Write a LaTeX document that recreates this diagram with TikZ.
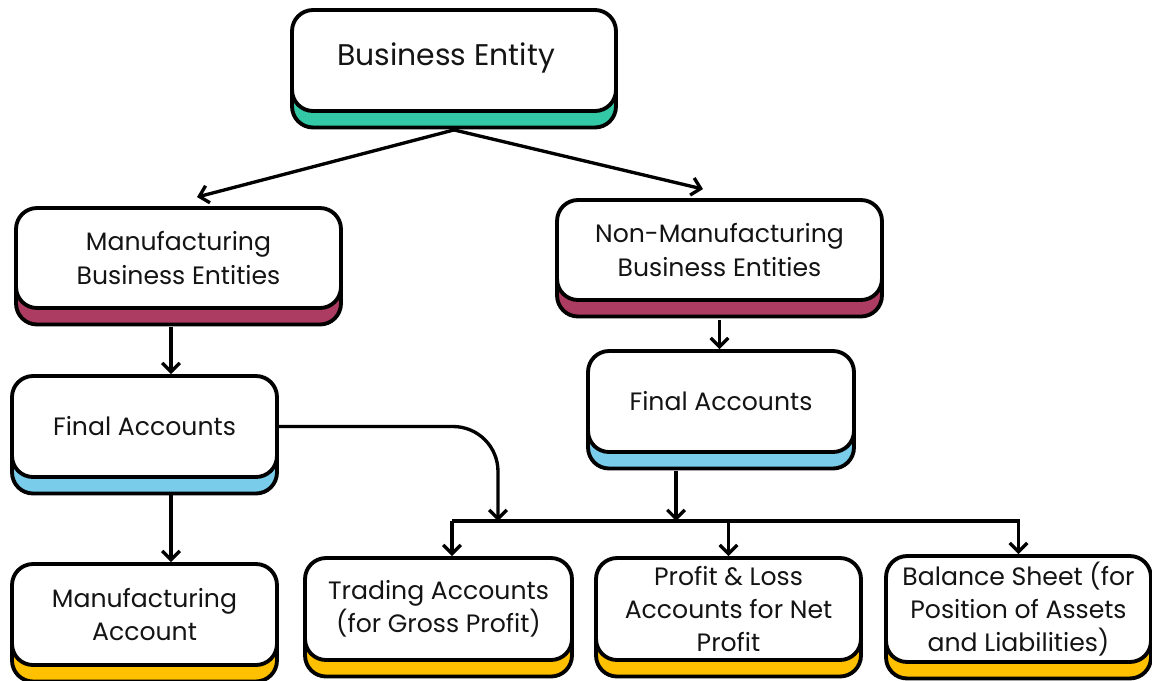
\documentclass[tikz,border=0pt]{standalone}
\usepackage{fontspec}
\setmainfont{Poppins}
\usetikzlibrary{arrows.meta, positioning, calc}
\definecolor{tealsh}{RGB}{52,201,166}
\definecolor{maroonsh}{RGB}{173,60,98}
\definecolor{bluesh}{RGB}{122,204,235}
\definecolor{goldsh}{RGB}{255,192,0}
\definecolor{inktext}{RGB}{20,20,20}

\tikzset{
  card/.style={draw, line width=2.2pt, rounded corners=0.42cm, fill=white, align=center,
    text=inktext, font=\fontsize{14.3}{18.8}\selectfont,
    preaction={draw, fill=#1, transform canvas={yshift=-0.33cm}}},
  arr/.style={line width=1.9pt, -{Straight Barb[length=5pt, width=10pt]}}
}

\begin{document}
\begin{tikzpicture}[x=0.02cm, y=-0.02cm]
  \useasboundingbox (0,0) rectangle (1152,680);
  % top level
  \node[card=tealsh, minimum width=6.48cm, minimum height=2.02cm,
        font=\fontsize{17}{20}\selectfont] (be) at (454,60.5)
    {\raisebox{7pt}{Business Entity}\hspace{9pt}};
  % second level
  \node[card=maroonsh, minimum width=6.5cm, minimum height=2cm] (mfg) at (178.5,258)
    {Manufacturing\\Business Entities};
  \node[card=maroonsh, minimum width=6.5cm, minimum height=2cm] (nonmfg) at (719.5,250)
    {Non-Manufacturing\\Business Entities};
  % final accounts
  \node[card=bluesh, minimum width=5.3cm, minimum height=2.02cm] (fal) at (144.5,426.5) {Final Accounts};
  \node[card=bluesh, minimum width=5.32cm, minimum height=2.02cm] (far) at (721,401.5) {Final Accounts};
  % bottom row
  \node[card=goldsh, minimum width=5.3cm, minimum height=2.02cm] (ma) at (144.5,614.5)
    {Manufacturing\\Account};
  \node[card=goldsh, minimum width=5.34cm, minimum height=2.04cm] (ta) at (438.5,609)
    {Trading Accounts\\(for Gross Profit)};
  \node[card=goldsh, minimum width=5.3cm, minimum height=2.04cm] (pl) at (728.5,609)
    {Profit \& Loss\\Accounts for Net\\Profit};
  \node[card=goldsh, minimum width=5.3cm, minimum height=2.04cm] (bs) at (1018.5,609)
    {Balance Sheet (for\\Position of Assets\\and Liabilities)};

  % connectors
  \draw[arr] ([yshift=-0.34cm]be.south) -- ([xshift=0.37cm, yshift=0.18cm]mfg.north);
  \draw[arr] ([yshift=-0.34cm]be.south) -- ([xshift=-0.33cm, yshift=0.18cm]nonmfg.north);
  \draw[arr] ([xshift=-0.15cm, yshift=-0.34cm]mfg.south) -- ([xshift=-0.15cm]mfg.south |- fal.north);
  \draw[arr] ([yshift=-0.36cm]nonmfg.south) -- (nonmfg.south |- far.north);
  \draw[arr] ([xshift=0.53cm, yshift=-0.33cm]fal.south) -- ([xshift=0.53cm]fal.south |- ma.north);
  % joining line
  \coordinate (busL) at (452,521);
  \draw[arr, rounded corners=0.9cm] (fal.east) -| ([xshift=0.92cm]busL);
  \draw[arr] ([xshift=-0.9cm, yshift=-0.34cm]far.south) -- ([xshift=-0.9cm]far.south |- busL);
  \draw[arr] (busL) -| (bs.north);
  \draw[arr] (busL) -- (busL |- ta.north);
  \draw[arr] (pl.north |- busL) -- (pl.north);
\end{tikzpicture}
\end{document}
